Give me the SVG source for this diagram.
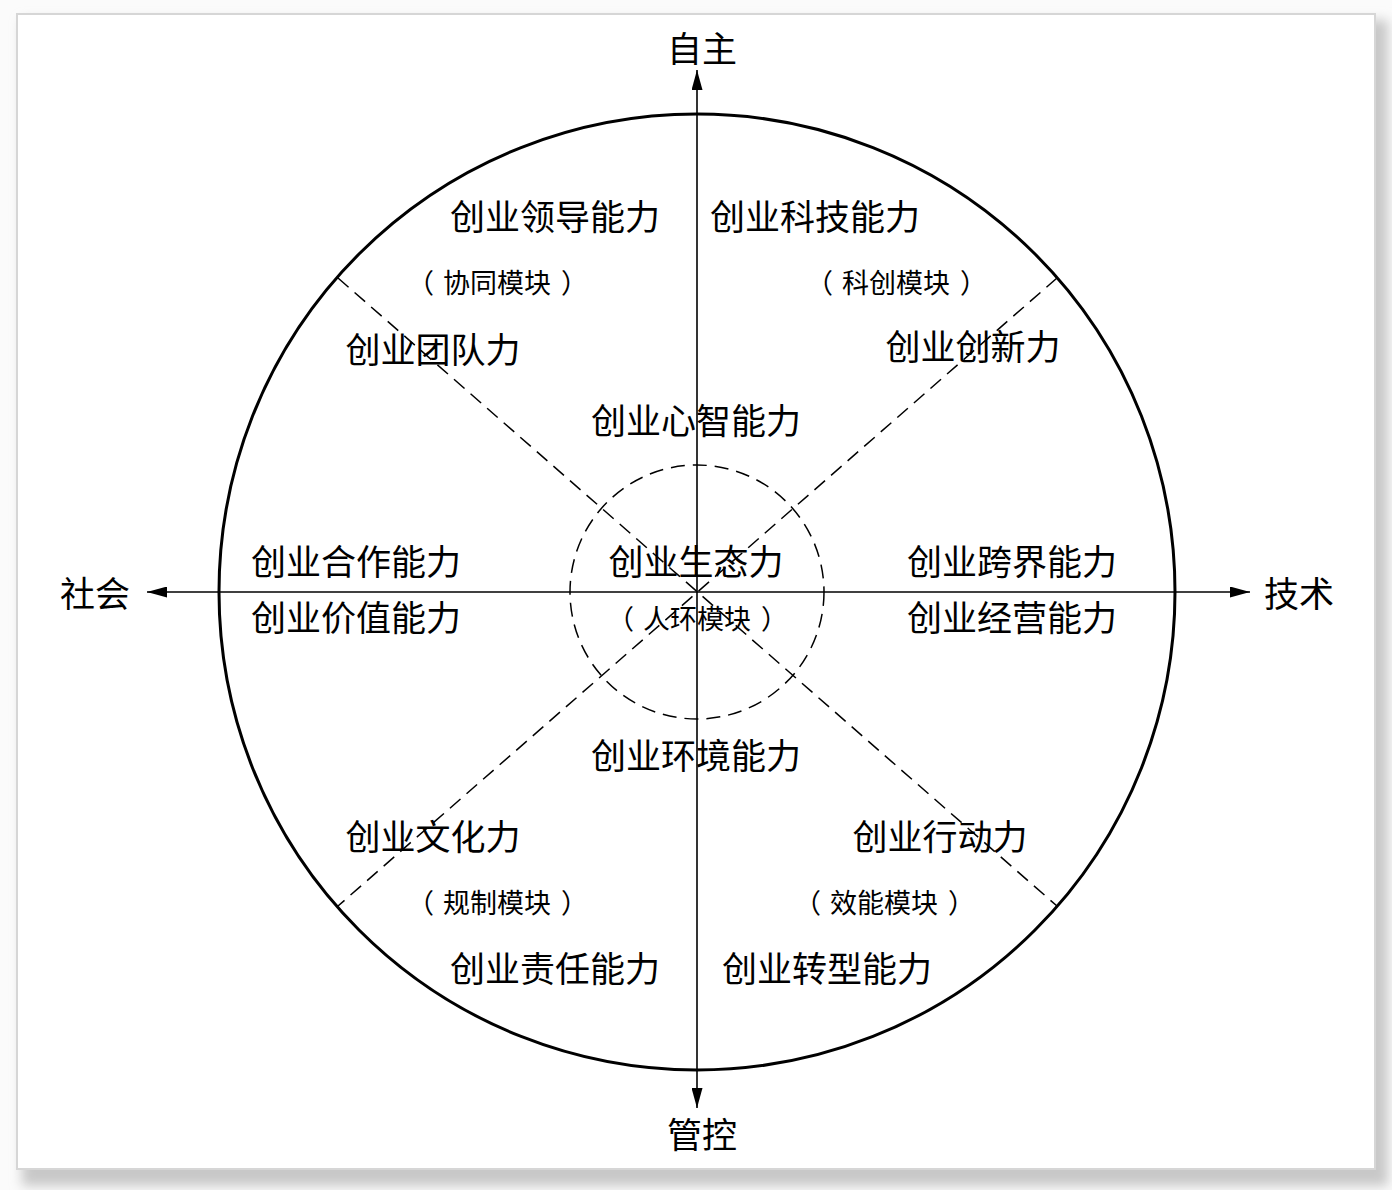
<svg xmlns="http://www.w3.org/2000/svg" width="1392" height="1190" viewBox="0 0 1392 1190">
<defs>
<style>
.t{font-family:"Noto Sans CJK SC","Noto Sans",sans-serif;font-size:35px;fill:#000;text-anchor:middle;dominant-baseline:central}
.s{font-family:"Noto Sans CJK SC","Noto Sans",sans-serif;font-size:27px;fill:#000;text-anchor:middle;dominant-baseline:central}
.pl{text-anchor:end}
.pr{text-anchor:start}
.dash{stroke:#000;stroke-width:1.5;fill:none;stroke-dasharray:14 8}
.axis{stroke:#000;stroke-width:1.6;fill:none}
</style>
<marker id="arr" viewBox="0 0 20 11" refX="20" refY="5.5" markerWidth="20" markerHeight="11" markerUnits="userSpaceOnUse" orient="auto">
<path d="M0,0 L20,5.5 L0,11 Z" fill="#000"/>
</marker>
<filter id="sh" x="-5%" y="-5%" width="110%" height="110%"><feGaussianBlur stdDeviation="6"/></filter>
</defs>
<rect x="0" y="0" width="1392" height="1190" fill="#fbfbfb"/>
<rect x="22" y="20" width="1366" height="1166" fill="#c8c8c8" filter="url(#sh)"/>
<rect x="17" y="14" width="1358" height="1155" fill="#fff" stroke="#d6d6d6" stroke-width="2"/>

<g id="connectors">
<circle cx="697" cy="592" r="478" fill="none" stroke="#000" stroke-width="3"/>
<circle id="inner" cx="697" cy="592" r="127" class="dash"/>
<line x1="338" y1="278" x2="1057" y2="906" class="dash"/>
<line x1="1057" y1="278" x2="338" y2="906" class="dash"/>
<line x1="697" y1="592" x2="697" y2="70" class="axis" marker-end="url(#arr)"/>
<line x1="697" y1="592" x2="697" y2="1108" class="axis" marker-end="url(#arr)"/>
<line x1="697" y1="592" x2="147" y2="592" class="axis" marker-end="url(#arr)"/>
<line x1="697" y1="592" x2="1250" y2="592" class="axis" marker-end="url(#arr)"/>
</g>

<g id="axis-top"><text class="t" x="702" y="46">自主</text></g>
<g id="axis-left"><text class="t" x="95" y="591">社会</text></g>
<g id="axis-right"><text class="t" x="1299" y="591">技术</text></g>
<g id="axis-bottom"><text class="t" x="702" y="1132">管控</text></g>

<g id="n-lingdao"><text class="t" x="555" y="214">创业领导能力</text></g>
<g id="n-keji"><text class="t" x="815" y="214">创业科技能力</text></g>
<g id="m-xietong"><text class="s pl" x="434" y="281">（</text><text class="s" x="497" y="281">协同模块</text><text class="s pr" x="561" y="281">）</text></g>
<g id="m-kechuang"><text class="s pl" x="833" y="281">（</text><text class="s" x="896" y="281">科创模块</text><text class="s pr" x="960" y="281">）</text></g>
<g id="n-tuandui"><text class="t" x="433" y="347">创业团队力</text></g>
<g id="n-chuangxin"><text class="t" x="973" y="344">创业创新力</text></g>
<g id="n-xinzhi"><text class="t" x="696" y="418">创业心智能力</text></g>
<g id="n-hezuo"><text class="t" x="356" y="559">创业合作能力</text></g>
<g id="n-jiazhi"><text class="t" x="356" y="615">创业价值能力</text></g>
<g id="n-shengtai"><text class="t" x="696" y="559">创业生态力</text></g>
<g id="m-renhuan"><text class="s pl" x="634" y="617">（</text><text class="s" x="697" y="617">人环模块</text><text class="s pr" x="761" y="617">）</text></g>
<g id="n-kuajie"><text class="t" x="1012" y="559">创业跨界能力</text></g>
<g id="n-jingying"><text class="t" x="1012" y="615">创业经营能力</text></g>
<g id="n-huanjing"><text class="t" x="696" y="753">创业环境能力</text></g>
<g id="n-wenhua"><text class="t" x="433" y="834">创业文化力</text></g>
<g id="n-xingdong"><text class="t" x="940" y="834">创业行动力</text></g>
<g id="m-guizhi"><text class="s pl" x="434" y="901">（</text><text class="s" x="497" y="901">规制模块</text><text class="s pr" x="561" y="901">）</text></g>
<g id="m-xiaoneng"><text class="s pl" x="821" y="901">（</text><text class="s" x="884" y="901">效能模块</text><text class="s pr" x="948" y="901">）</text></g>
<g id="n-zeren"><text class="t" x="555" y="966">创业责任能力</text></g>
<g id="n-zhuanxing"><text class="t" x="827" y="966">创业转型能力</text></g>
</svg>
